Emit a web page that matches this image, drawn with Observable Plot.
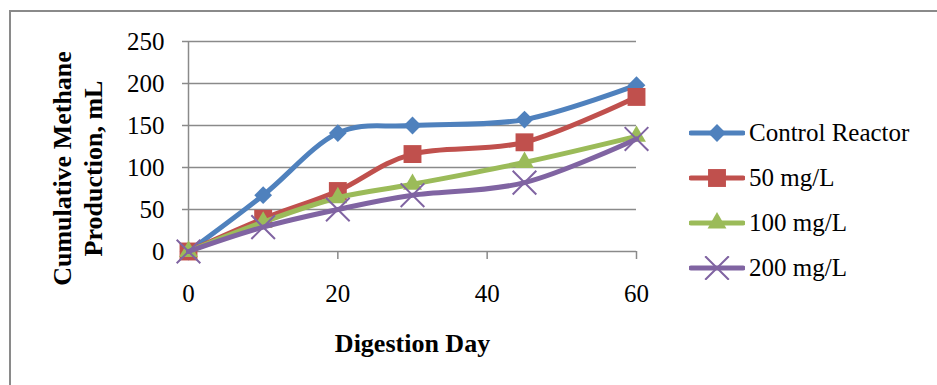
<!DOCTYPE html>
<html>
<head>
<meta charset="utf-8">
<script src="https://cdn.jsdelivr.net/npm/d3@7"></script>
<script src="https://cdn.jsdelivr.net/npm/@observablehq/plot@0.6"></script>
<style>
  html, body { margin: 0; padding: 0; background: #fff; overflow: hidden; }
  #wrap { position: relative; width: 937px; height: 385px; overflow: hidden; font-family: "Liberation Serif", serif; }
  #frame { position: absolute; left: 9px; top: 10px; width: 1000px; height: 500px; border: 2px solid #8a8a8a; box-sizing: border-box; }
  #chart { position: absolute; left: 0; top: 0; }
  #chart svg text { font-family: "Liberation Serif", serif; }
  .leg { position: absolute; left: 689px; height: 24px; display: flex; align-items: center; font-family: "Liberation Serif", serif; font-size: 25px; color: #000; white-space: nowrap; }
  .leg svg { display: block; margin-right: 4px; }
</style>
</head>
<body>
<div id="wrap">
  <div id="frame"></div>
  <div id="chart"></div>
</div>
<script>
// ---- data ----
const days = [0, 10, 20, 30, 45, 60];
const seriesNames = ["Control Reactor", "50 mg/L", "100 mg/L", "200 mg/L"];
const controlReactor = [0, 67, 141, 150, 157, 198];
const mg50 = [0, 39, 72, 116, 130, 184];
const mg100 = [0, 35, 64, 80, 106, 137];
const mg200 = [0, 29, 50, 67, 82, 134];
const xTicks = [0, 20, 40, 60];
const yTicks = [0, 50, 100, 150, 200, 250];

const colors = ["#4F81BD", "#C0504D", "#9BBB59", "#8064A2"];
const symbols = ["diamond2", "square", "triangle", "times"];
const radii = [8, 10.1, 7, 10.8];
const valueSets = [controlReactor, mg50, mg100, mg200];

const data = seriesNames.flatMap((name, s) =>
  days.map((d, i) => ({ day: d, value: valueSets[s][i], series: name }))
);

const FONT = "'Liberation Serif', serif";
const gray = "#8a8a8a";
const marks = [
  Plot.ruleY(yTicks, { y: d => d, stroke: gray, strokeWidth: 1.5, insetLeft: -6 }),
  Plot.ruleX([0], { x: d => d, stroke: gray, strokeWidth: 1.5, insetBottom: -8 }),
  Plot.ruleX(xTicks.filter(d => d > 0), { x: d => d, y1: 0, y2: 0, stroke: gray, strokeWidth: 1.5, insetBottom: -8 }),
  Plot.axisY({ ticks: yTicks, tickSize: 0, tickPadding: 24, fontSize: 25, fontFamily: FONT, label: null, fill: "#000" }),
  Plot.axisX({ ticks: xTicks, tickSize: 0, tickPadding: 33, fontSize: 25, fontFamily: FONT, label: null, fill: "#000" })
];

seriesNames.forEach((name, s) => {
  const sub = data.filter(d => d.series === name);
  marks.push(Plot.line(sub, { x: "day", y: "value", stroke: colors[s], strokeWidth: 5, curve: "cardinal", tension: 0 }));
  if (symbols[s] === "times") {
    marks.push(Plot.dot(sub, { x: "day", y: "value", symbol: symbols[s], r: radii[s], stroke: colors[s], strokeWidth: 2, fill: "none" }));
  } else {
    marks.push(Plot.dot(sub, { x: "day", y: "value", symbol: symbols[s], r: radii[s], fill: colors[s], stroke: "none" }));
  }
});

marks.push(Plot.text(["Cumulative Methane\nProduction, mL"], {
  text: d => d, frameAnchor: "left", dx: -111.5, dy: 22, rotate: -90, fontFamily: FONT,
  fontSize: 26, fontWeight: "bold", lineAnchor: "middle", textAnchor: "middle", lineHeight: 1.19, fill: "#000"
}));
marks.push(Plot.text(["Digestion Day"], {
  text: d => d, frameAnchor: "bottom", dy: 92, fontSize: 26, fontFamily: FONT, fontWeight: "bold", lineAnchor: "middle", textAnchor: "middle", fill: "#000"
}));

const chart = Plot.plot({
  width: 937,
  height: 385,
  marginLeft: 188,
  marginRight: 301,
  marginTop: 41,
  marginBottom: 134,
  x: { domain: [0, 60] },
  y: { domain: [0, 250] },
  style: { fontFamily: FONT, background: "transparent", overflow: "visible" },
  marks
});
document.getElementById("chart").appendChild(chart);

// ---- legend ----
const wrap = document.getElementById("wrap");
const legendY = [133, 178, 223, 268];
const symMap = { diamond2: d3.symbolDiamond2, square: d3.symbolSquare, triangle: d3.symbolTriangle, times: d3.symbolTimes };
seriesNames.forEach((name, s) => {
  const item = document.createElement("div");
  item.className = "leg";
  item.style.top = (legendY[s] - 12) + "px";
  const svg = d3.create("svg").attr("width", 56).attr("height", 24);
  svg.append("line").attr("x1", 2).attr("x2", 54).attr("y1", 12).attr("y2", 12)
    .attr("stroke", colors[s]).attr("stroke-width", 5).attr("stroke-linecap", "round");
  const size = Math.PI * radii[s] * radii[s];
  const p = svg.append("path").attr("transform", "translate(28,12)")
    .attr("d", d3.symbol(symMap[symbols[s]], size)());
  if (symbols[s] === "times") p.attr("fill", "none").attr("stroke", colors[s]).attr("stroke-width", 2);
  else p.attr("fill", colors[s]);
  item.appendChild(svg.node());
  const t = document.createElement("span");
  t.textContent = name;
  item.appendChild(t);
  wrap.appendChild(item);
});
</script>
</body>
</html>
